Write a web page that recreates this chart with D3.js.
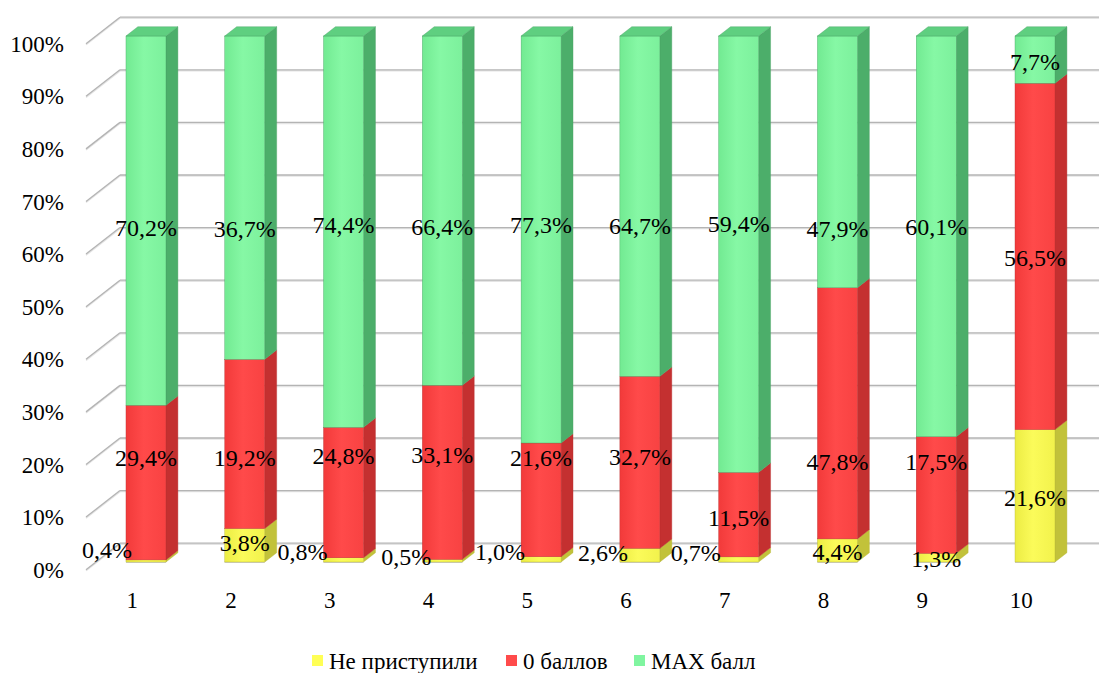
<!DOCTYPE html>
<html>
<head>
<meta charset="utf-8">
<script src="https://cdn.jsdelivr.net/npm/d3@7"></script>
<style>
  html, body { margin: 0; padding: 0; background: #fff; }
  svg { display: block; }
</style>
</head>
<body>
<svg id="chart" width="1099" height="673"></svg>
<script>
// Task numbers (categories)
const tasks = ["1", "2", "3", "4", "5", "6", "7", "8", "9", "10"];
// Series values, % of participants
const notStarted = [0.4, 3.8, 0.8, 0.5, 1.0, 2.6, 0.7, 4.4, 1.3, 21.6];
const zeroPoints = [29.4, 19.2, 24.8, 33.1, 21.6, 32.7, 11.5, 47.8, 17.5, 56.5];
const maxPoints  = [70.2, 36.7, 74.4, 66.4, 77.3, 64.7, 59.4, 47.9, 60.1, 7.7];
const seriesNames = ["Не приступили", "0 баллов", "MAX балл"];
const yTicks = [0, 10, 20, 30, 40, 50, 60, 70, 80, 90, 100];

// Height (axis %) at which each value label sits, per series
const notStartedLabelAt = [2.3, 3.6, 1.9, 1.0, 1.9, 1.7, 1.7, 1.9, 0.6, 12.2];
const zeroLabelAt       = [19.8, 19.8, 20.2, 20.5, 19.8, 20.0, 8.4, 19.0, 19.0, 57.8];
const maxLabelAt        = [63.5, 63.3, 64.1, 63.7, 64.1, 63.9, 64.3, 63.3, 63.7, 95.1];
// Sideways nudge of the small "not started" labels
const notStartedLabelShift = [-39, 0, -41, -36, -41, -37, -43, 0, 0, 0];

const svg = d3.select("#chart");
const FONT = "Liberation Serif";

// Scales for the front face of the bars
const x = d3.scaleBand().domain(tasks).range([96.6, 1084.4]).padding(0);
const y = d3.scaleLinear().domain([0, 100]).range([562, 36]);
const barW = x.bandwidth() * 0.405;
const barCx = t => x(t) + x.bandwidth() / 2;

// 3D depth: full floor depth vector and where the bars sit in it
const depth = [34, -26.5];
const zFront = 0.29, zBarBack = 0.64;
const dBar = [depth[0] * (zBarBack - zFront), depth[1] * (zBarBack - zFront)];
const toEdge = [-depth[0] * zFront, -depth[1] * zFront];        // bar front -> floor front edge
const toBack = [depth[0] * (1 - zFront), depth[1] * (1 - zFront)]; // bar front -> back wall

const wallLeftFront = 86;
const wallLeftBack = wallLeftFront + depth[0];

// Gradients
const defs = svg.append("defs");
function hGrad(id, stops) {
  const g = defs.append("linearGradient").attr("id", id)
    .attr("x1", "0%").attr("x2", "100%").attr("y1", "0%").attr("y2", "0%");
  stops.forEach(([o, c]) => g.append("stop").attr("offset", o).attr("stop-color", c));
}
const palette = [
  { front: [["0%", "#ecec44"], ["45%", "#fbfb5a"], ["100%", "#f2f24c"]], side: "#c2c23a", top: "#e0e050", legend: "#ffff55", stroke: "#b5b535" },
  { front: [["0%", "#f23a3a"], ["45%", "#ff4a4a"], ["100%", "#f84242"]], side: "#c43030", top: "#e04040", legend: "#ff4b4b", stroke: "#b83030" },
  { front: [["0%", "#72ea92"], ["45%", "#86f8a5"], ["100%", "#7cf09c"]], side: "#4cae6a", top: "#5fcf80", legend: "#80f5a0", stroke: "#47a063" }
];
palette.forEach((p, i) => hGrad("front" + i, p.front));

// Gridlines: back wall and left wall
const grid = svg.append("g");
yTicks.forEach(v => {
  const yb = y(v) + toBack[1];
  const ye = y(v) + toEdge[1];
  grid.append("line")
    .attr("x1", wallLeftBack).attr("x2", 1099)
    .attr("y1", yb + 1).attr("y2", yb + 1)
    .attr("stroke", "#e4e4e4").attr("stroke-width", 1.5);
  grid.append("line")
    .attr("x1", wallLeftBack).attr("x2", 1099)
    .attr("y1", yb).attr("y2", yb)
    .attr("stroke", "#b4b4b4").attr("stroke-width", 1.3);
  grid.append("line")
    .attr("x1", wallLeftFront).attr("y1", ye + 1)
    .attr("x2", wallLeftBack).attr("y2", yb + 1)
    .attr("stroke", "#e4e4e4").attr("stroke-width", 1.5);
  grid.append("line")
    .attr("x1", wallLeftFront).attr("y1", ye)
    .attr("x2", wallLeftBack).attr("y2", yb)
    .attr("stroke", "#b4b4b4").attr("stroke-width", 1.3);
});

// 100% stacked data
const rows = tasks.map((t, i) => ({ task: t, s0: notStarted[i], s1: zeroPoints[i], s2: maxPoints[i] }));
const stacked = d3.stack().keys(["s0", "s1", "s2"]).offset(d3.stackOffsetExpand)(rows);

// Bars
const bars = svg.append("g");
tasks.forEach((t, i) => {
  const g = bars.append("g");
  const x0 = barCx(t) - barW / 2, x1 = barCx(t) + barW / 2;
  stacked.forEach((layer, si) => {
    const lo = layer[i][0] * 100, hi = layer[i][1] * 100;
    if (hi - lo <= 0) return;
    const p = palette[si];
    const yl = y(lo), yh = y(hi);
    // side face
    g.append("path")
      .attr("d", `M${x1},${yl} L${x1 + dBar[0]},${yl + dBar[1]} L${x1 + dBar[0]},${yh + dBar[1]} L${x1},${yh} Z`)
      .attr("fill", p.side).attr("stroke", p.stroke).attr("stroke-width", 0.4);
    // front face
    g.append("rect")
      .attr("x", x0).attr("y", yh).attr("width", barW).attr("height", yl - yh)
      .attr("fill", `url(#front${si})`).attr("stroke", p.stroke).attr("stroke-width", 0.4);
    // top cap on the uppermost segment
    if (si === stacked.length - 1 || hi >= 99.999) {
      g.append("path")
        .attr("d", `M${x0},${yh} L${x0 + dBar[0]},${yh + dBar[1]} L${x1 + dBar[0]},${yh + dBar[1]} L${x1},${yh} Z`)
        .attr("fill", p.top).attr("stroke", p.stroke).attr("stroke-width", 0.4);
    }
  });
  // bottom edge
  g.append("line").attr("x1", x0).attr("x2", x1).attr("y1", y(0) + 0.5).attr("y2", y(0) + 0.5)
    .attr("stroke", "#c8c8a8").attr("stroke-width", 1);
});

// Y axis labels at the front edge of the left wall
svg.append("g").selectAll("text").data(yTicks).join("text")
  .attr("x", 64).attr("y", v => y(v) + toEdge[1])
  .attr("dy", "0.35em").attr("text-anchor", "end")
  .attr("font-family", FONT).attr("font-size", 23)
  .text(v => v + "%");

// X axis labels
svg.append("g").selectAll("text").data(tasks).join("text")
  .attr("x", t => barCx(t) + toEdge[0] - 4).attr("y", 600)
  .attr("dy", "0.35em").attr("text-anchor", "middle")
  .attr("font-family", FONT).attr("font-size", 23)
  .text(t => t);

// Value labels
const fmt = v => v.toFixed(1).replace(".", ",") + "%";
const labelSets = [
  { vals: notStarted, at: notStartedLabelAt, shift: notStartedLabelShift },
  { vals: zeroPoints, at: zeroLabelAt, shift: tasks.map(() => 0) },
  { vals: maxPoints, at: maxLabelAt, shift: tasks.map(() => 0) }
];
const lbl = svg.append("g");
labelSets.forEach(set => {
  tasks.forEach((t, i) => {
    lbl.append("text")
      .attr("x", barCx(t) + set.shift[i]).attr("y", y(set.at[i]))
      .attr("dy", "0.35em").attr("text-anchor", "middle")
      .attr("font-family", FONT).attr("font-size", 24)
      .text(fmt(set.vals[i]));
  });
});

// Legend
const legendX = [312, 506, 634];
const legend = svg.append("g");
seriesNames.forEach((name, i) => {
  legend.append("rect").attr("x", legendX[i]).attr("y", 655).attr("width", 11).attr("height", 11)
    .attr("fill", palette[i].legend);
  legend.append("text").attr("x", legendX[i] + 17).attr("y", 661)
    .attr("dy", "0.35em").attr("font-family", FONT).attr("font-size", 23).text(name);
});
</script>
</body>
</html>
